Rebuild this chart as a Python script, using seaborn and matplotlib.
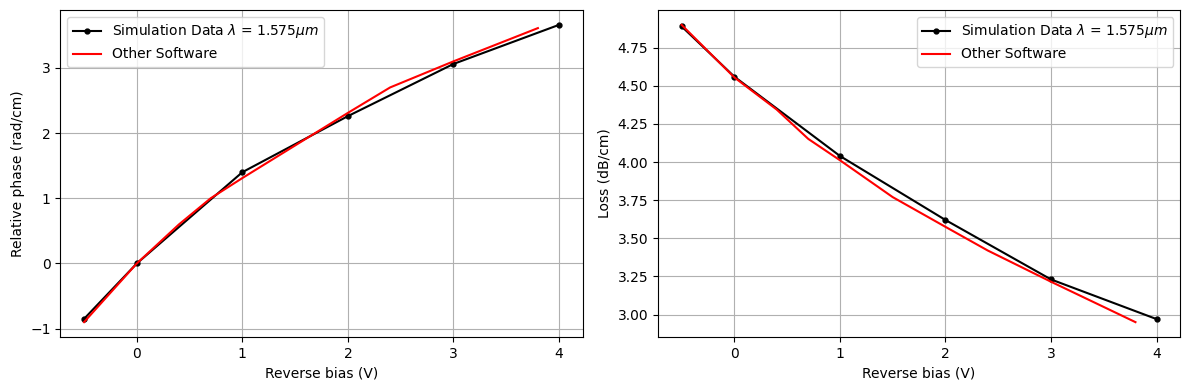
import matplotlib
matplotlib.use("Agg")
import matplotlib.pyplot as plt
import seaborn as sns
import numpy as np

# Simulation data
bias_sim = [-0.5, 0, 1, 2, 3, 4]
phase_sim = [-0.85, 0.0, 1.40, 2.26, 3.06, 3.66]
loss_sim = [4.89, 4.56, 4.04, 3.62, 3.23, 2.97]

# Other software
bias_other = [-0.5, 0, 0.4, 0.7, 1.0, 1.5, 2.0, 2.4, 3.0, 3.8]
phase_other = [-0.90, 0.0, 0.60, 1.00, 1.31, 1.81, 2.31, 2.70, 3.10, 3.61]
loss_other = [4.90, 4.555, 4.345, 4.152, 4.012, 3.77, 3.575, 3.42, 3.215, 2.95]

sim_label = r"Simulation Data $\lambda$ = 1.575$\mu m$"
other_label = "Other Software"

fig, axes = plt.subplots(1, 2, figsize=(11.89, 3.9), dpi=100)

for ax, ysim, yother, ylabel, loc in [
    (axes[0], phase_sim, phase_other, "Relative phase (rad/cm)", "upper left"),
    (axes[1], loss_sim, loss_other, "Loss (dB/cm)", "upper right"),
]:
    sns.lineplot(x=bias_sim, y=ysim, ax=ax, color="black", marker=".",
                 markersize=7, markeredgecolor="black", markeredgewidth=1,
                 label=sim_label, linewidth=1.5)
    sns.lineplot(x=bias_other, y=yother, ax=ax, color="red",
                 label=other_label, linewidth=1.5)
    ax.set_xlabel("Reverse bias (V)")
    ax.set_ylabel(ylabel)
    ax.grid(True)
    ax.legend(loc=loc)

fig.subplots_adjust(left=0.0507, right=0.9927, top=0.9744, bottom=0.1359,
                    wspace=0.1437)
fig.savefig("out.png", dpi=100)
